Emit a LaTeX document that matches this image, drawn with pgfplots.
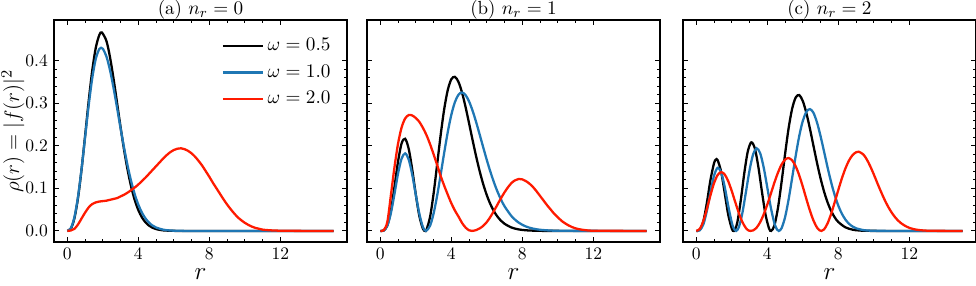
\documentclass[border=0pt]{standalone}
\usepackage{pgfplots}
\pgfplotsset{compat=1.18}
\definecolor{tabblue}{HTML}{1F77B4}
\definecolor{myred}{HTML}{FF1A00}
\pgfplotsset{
 panel/.style={
  scale only axis, width=167pt, height=126.5pt,
  xmin=-0.75, xmax=15.75, ymin=-0.026, ymax=0.495,
  xtick={0,4,8,12}, minor x tick num=3,
  ytick={0,0.1,0.2,0.3,0.4}, minor y tick num=4,
  tick align=inside, xtick pos=both, ytick pos=both,
  major tick length=3pt, minor tick length=1.7pt,
  axis line style={line width=0.9pt},
  every tick/.style={black, line width=0.5pt},
  tick label style={font=\fontsize{10}{12}\selectfont},
  yticklabel style={/pgf/number format/.cd, fixed, precision=1, fixed zerofill},
  every axis title/.style={at={(0.5,1)}, anchor=base, yshift=3pt, font=\fontsize{10.8}{13}\selectfont},
  xlabel={$r$},
  every axis x label/.style={at={(axis description cs:0.5,0)}, anchor=center, yshift=-18.2pt, font=\fontsize{14}{16}\selectfont},
  every axis plot/.append style={line width=1.3pt, smooth, tension=0.5},
 }
}
\begin{document}
\begin{tikzpicture}
\useasboundingbox (-30.78pt,-25.08pt) rectangle (525.54pt,137.94pt);
% ---------------- panel (a)
\begin{axis}[panel, at={(0pt,0pt)}, anchor=south west,
  title={(a) $n_r = 0$},
  ylabel={$\rho(r) = |f(r)|^2$},
  every axis y label/.style={at={(axis description cs:-0.1404,0.5)}, rotate=90, anchor=center, font=\fontsize{13}{15}\selectfont},
  legend cell align=left,
  legend style={draw=none, fill=none, at={(0.975,0.95)}, anchor=north east,
    font=\fontsize{10.6}{12}\selectfont, row sep=2.5pt},
  legend image code/.code={\draw[#1, line width=1.5pt] (0pt,0pt) -- (22.8pt,0pt);},
]
\addplot[black] coordinates {(0,0) (0.2,0.0055) (0.4,0.0298) (0.6,0.0768) (0.8,0.1436) (1.0,0.2226) (1.2,0.3034) (1.4,0.3753) (1.6,0.4293) (1.8,0.4598) (1.94,0.466) (2.2,0.4463) (2.4,0.4087) (2.6,0.3582) (2.8,0.3011) (3.0,0.2434) (3.2,0.1895) (3.4,0.1422) (3.6,0.1030) (3.8,0.0721) (4.0,0.0488) (4.2,0.0320) (4.4,0.0203) (4.6,0.0125) (4.8,0.0074) (5.0,0.0043) (5.4,0.0013) (6.0,0.0002) (7,0) (15,0)};
\addlegendentry{$\omega = 0.5$}
\addplot[tabblue] coordinates {(0,0) (0.2,0.0063) (0.4,0.0322) (0.6,0.0796) (0.8,0.1447) (1.0,0.2194) (1.2,0.2936) (1.4,0.3575) (1.6,0.4036) (1.8,0.4271) (1.9,0.43) (2.0,0.4277) (2.2,0.4100) (2.4,0.3782) (2.6,0.3365) (2.8,0.2894) (3.0,0.2409) (3.2,0.1944) (3.4,0.1522) (3.6,0.1158) (3.8,0.0856) (4.0,0.0616) (4.2,0.0431) (4.4,0.0294) (4.6,0.0195) (4.8,0.0126) (5.0,0.0080) (5.4,0.0029) (5.8,0.0010) (6.4,0.0002) (7.5,0) (15,0)};
\addlegendentry{$\omega = 1.0$}
\addplot[myred] coordinates {(0,0) (0.2,0.001) (0.4,0.005) (0.6,0.015) (0.8,0.029) (1.0,0.043) (1.2,0.055) (1.4,0.063) (1.6,0.067) (1.8,0.069) (2.0,0.070) (2.2,0.071) (2.4,0.073) (2.6,0.075) (2.8,0.077) (3.0,0.081) (3.2,0.085) (3.4,0.090) (3.6,0.096) (3.8,0.102) (4.0,0.109) (4.2,0.117) (4.4,0.125) (4.6,0.134) (4.8,0.143) (5.0,0.152) (5.2,0.161) (5.4,0.170) (5.6,0.178) (5.8,0.185) (6.0,0.190) (6.2,0.193) (6.4,0.194) (6.6,0.192) (6.8,0.188) (7.0,0.182) (7.2,0.174) (7.4,0.164) (7.6,0.153) (7.8,0.140) (8.0,0.127) (8.2,0.113) (8.4,0.100) (8.6,0.087) (8.8,0.074) (9.0,0.062) (9.2,0.051) (9.4,0.041) (9.6,0.032) (9.8,0.025) (10.0,0.019) (10.2,0.014) (10.4,0.010) (10.6,0.007) (10.8,0.005) (11.0,0.003) (11.4,0.0015) (12,0.0005) (13,0.0001) (15,0)};
\addlegendentry{$\omega = 2.0$}
\end{axis}
% ---------------- panel (b)
\begin{axis}[panel, at={(178.4pt,0pt)}, anchor=south west,
  title={(b) $n_r = 1$}, yticklabels={}]
\addplot[black] coordinates {(0,0) (0.2,0.0011) (0.4,0.0133) (0.6,0.0483) (0.8,0.1038) (1.0,0.1632) (1.2,0.2056) (1.4,0.2163) (1.6,0.1926) (1.8,0.1436) (2.0,0.0853) (2.2,0.0348) (2.4,0.0050) (2.52,0) (2.6,0.0028) (2.8,0.0324) (3.0,0.0872) (3.2,0.1557) (3.4,0.2254) (3.6,0.2862) (3.8,0.3309) (4.0,0.3561) (4.2,0.3618) (4.4,0.3501) (4.6,0.3252) (4.8,0.2912) (5.0,0.2525) (5.2,0.2127) (5.4,0.1744) (5.6,0.1396) (5.8,0.1092) (6.0,0.0836) (6.2,0.0628) (6.4,0.0463) (6.6,0.0335) (6.8,0.0238) (7.0,0.0167) (7.4,0.0078) (7.8,0.0035) (8.2,0.0015) (8.8,0.0004) (9.6,0.0001) (15,0)};
\addplot[tabblue] coordinates {(0,0) (0.2,0.0013) (0.4,0.0128) (0.6,0.0425) (0.8,0.0873) (1.0,0.1348) (1.2,0.1699) (1.4,0.1820) (1.6,0.1676) (1.8,0.1317) (2.0,0.0848) (2.2,0.0400) (2.4,0.0090) (2.57,0) (2.8,0.0120) (3.0,0.0406) (3.2,0.0825) (3.4,0.1322) (3.6,0.1839) (3.8,0.2322) (4.0,0.2726) (4.2,0.3022) (4.4,0.3196) (4.6,0.3250) (4.8,0.3191) (5.0,0.3039) (5.2,0.2819) (5.4,0.2551) (5.6,0.2257) (5.8,0.1956) (6.0,0.1663) (6.2,0.1389) (6.4,0.1141) (6.6,0.0922) (6.8,0.0735) (7.0,0.0577) (7.4,0.0342) (7.8,0.0193) (8.2,0.0104) (8.6,0.0054) (9.0,0.0027) (9.6,0.0009) (10.4,0.0002) (15,0)};
\addplot[myred] coordinates {(0,0) (0.2,0.002) (0.4,0.022) (0.6,0.085) (0.8,0.150) (1.0,0.205) (1.2,0.243) (1.4,0.264) (1.6,0.272) (1.8,0.271) (2.0,0.265) (2.2,0.256) (2.4,0.242) (2.6,0.225) (2.8,0.204) (3.0,0.180) (3.2,0.155) (3.4,0.129) (3.6,0.106) (3.8,0.085) (4.0,0.065) (4.2,0.048) (4.4,0.034) (4.6,0.019) (4.8,0.008) (5.0,0.0015) (5.16,0) (5.4,0.002) (5.6,0.006) (5.8,0.012) (6.0,0.021) (6.2,0.033) (6.4,0.047) (6.6,0.062) (6.8,0.077) (7.0,0.091) (7.2,0.103) (7.4,0.113) (7.6,0.119) (7.8,0.122) (8.0,0.121) (8.2,0.117) (8.4,0.111) (8.6,0.103) (8.8,0.093) (9.0,0.082) (9.2,0.071) (9.4,0.060) (9.6,0.050) (9.8,0.040) (10.0,0.032) (10.2,0.024) (10.4,0.018) (10.6,0.013) (10.8,0.009) (11.0,0.006) (11.2,0.004) (11.6,0.0015) (12.2,0.0003) (15,0)};
\end{axis}
% ---------------- panel (c)
\begin{axis}[panel, at={(358.5pt,0pt)}, anchor=south west,
  title={(c) $n_r = 2$}, yticklabels={}]
\addplot[black] coordinates {(0,0) (0.2,0.0026) (0.4,0.0228) (0.6,0.0666) (0.8,0.1199) (1.0,0.1591) (1.1,0.1673) (1.2,0.1664) (1.4,0.1389) (1.6,0.0892) (1.8,0.0381) (2.0,0.0056) (2.12,0) (2.3,0.0178) (2.5,0.0699) (2.7,0.1343) (2.9,0.1863) (3.1,0.208) (3.3,0.1935) (3.5,0.1495) (3.7,0.0916) (3.9,0.0384) (4.1,0.0057) (4.22,0) (4.4,0.0128) (4.6,0.0538) (4.8,0.1136) (5.0,0.18) (5.2,0.241) (5.4,0.2871) (5.6,0.3133) (5.8,0.319) (6.0,0.3048) (6.2,0.2769) (6.4,0.2403) (6.6,0.1998) (6.8,0.1598) (7.0,0.1233) (7.2,0.092) (7.4,0.0664) (7.6,0.0465) (7.8,0.0316) (8.0,0.0209) (8.4,0.0084) (8.8,0.0030) (9.2,0.0010) (10,0.0001) (15,0)};
\addplot[tabblue] coordinates {(0,0) (0.2,0.0017) (0.4,0.0154) (0.6,0.0477) (0.8,0.0912) (1.0,0.1297) (1.2,0.148) (1.4,0.1378) (1.6,0.1037) (1.8,0.0587) (2.0,0.0195) (2.1,0.0069) (2.24,0) (2.4,0.009) (2.6,0.0429) (2.8,0.0922) (3.0,0.1424) (3.2,0.1796) (3.4,0.194) (3.6,0.1822) (3.8,0.1484) (4.0,0.1019) (4.2,0.0546) (4.4,0.018) (4.55,0.003) (4.65,0) (4.8,0.0061) (5.0,0.032) (5.2,0.0738) (5.4,0.1246) (5.6,0.1766) (5.8,0.223) (6.0,0.2583) (6.2,0.2795) (6.4,0.286) (6.6,0.2773) (6.8,0.2545) (7.0,0.2224) (7.2,0.1856) (7.4,0.1481) (7.6,0.1135) (7.8,0.0836) (8.0,0.0592) (8.2,0.0404) (8.4,0.0266) (8.6,0.0169) (8.8,0.0104) (9.0,0.0062) (9.4,0.0020) (9.8,0.0006) (10.4,0.0001) (15,0)};
\addplot[myred] coordinates {(0,0) (0.2,0.0049) (0.4,0.0233) (0.6,0.052) (0.8,0.0839) (1.0,0.1121) (1.2,0.131) (1.4,0.138) (1.6,0.1326) (1.8,0.1166) (2.0,0.0934) (2.2,0.0671) (2.4,0.0416) (2.6,0.0206) (2.8,0.0064) (2.95,0.001) (3.05,0) (3.2,0.0012) (3.4,0.0078) (3.6,0.0206) (3.8,0.0391) (4.0,0.062) (4.2,0.0875) (4.4,0.1134) (4.6,0.1368) (4.8,0.1555) (5.0,0.1674) (5.2,0.171) (5.4,0.1656) (5.6,0.1516) (5.8,0.1302) (6.0,0.1038) (6.2,0.0751) (6.4,0.0477) (6.6,0.0245) (6.8,0.0078) (6.95,0.0013) (7.05,0) (7.2,0.0036) (7.4,0.0183) (7.6,0.0408) (7.8,0.0679) (8.0,0.0963) (8.2,0.1233) (8.4,0.1467) (8.6,0.1652) (8.8,0.178) (9.0,0.1847) (9.14,0.186) (9.4,0.1799) (9.6,0.168) (9.8,0.1516) (10.0,0.1325) (10.2,0.112) (10.4,0.0923) (10.6,0.0737) (10.8,0.0573) (11.0,0.0434) (11.2,0.032) (11.4,0.023) (11.6,0.0161) (11.8,0.011) (12.0,0.0072) (12.2,0.0046) (12.4,0.0029) (12.8,0.001) (13.4,0.0002) (15,0)};
\end{axis}
\end{tikzpicture}
\end{document}
